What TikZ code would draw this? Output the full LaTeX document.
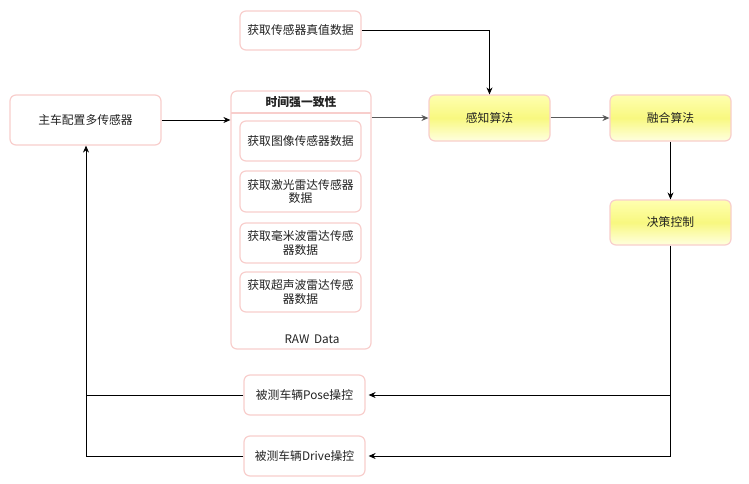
\documentclass[tikz,border=0pt]{standalone}
\usepackage{fontspec}
\setmainfont{Noto Sans CJK SC}
\usetikzlibrary{arrows.meta,positioning}
\definecolor{pinkb}{HTML}{F8CECC}
\definecolor{ytop}{HTML}{FFFFB0}
\definecolor{ymid}{HTML}{F8F880}
\definecolor{ybot}{HTML}{FFFFE0}
\definecolor{txt}{HTML}{222222}
\tikzset{
  box/.style={draw=pinkb, line width=1.2pt, rounded corners=6pt, fill=white, align=center,
    font=\fontsize{11.8}{13.5}\selectfont, text=txt, inner sep=0pt},
  ybox/.style={draw=pinkb, line width=1.2pt, rounded corners=6pt, align=center,
    top color=ytop, bottom color=ybot, middle color=ymid,
    font=\fontsize{11.8}{13.5}\selectfont, text=txt, inner sep=0pt},
  conn/.style={line width=0.8pt, -{Stealth[length=7pt,width=6pt]}},
  gconn/.style={line width=1pt, draw=black!65, -{Stealth[length=7pt,width=6pt]}},
  plain/.style={line width=0.8pt}
}
\begin{document}
\begin{tikzpicture}[x=1pt,y=-1pt]
\useasboundingbox (0,0) rectangle (749,484);
% container
\node[draw=pinkb, line width=1.2pt, rounded corners=6pt, minimum width=140pt, minimum height=258pt, inner sep=0pt] (cont) at (301,220) {};
\draw[pinkb, line width=1.2pt] (231,113) -- (371,113);
\node[font=\fontsize{11.8}{13.5}\selectfont\bfseries, text=txt] (title) at (301,102) {时间强一致性};
\node[font=\fontsize{11.8}{13.5}\selectfont, text=txt] (raw) at (312,339) {RAW\ \,Data};
% inner boxes
\node[box, minimum width=121pt, minimum height=40pt] (s1) at (300.5,141) {获取图像传感器数据};
\node[box, minimum width=121pt, minimum height=41pt] (s2) at (300.5,191.5) {获取激光雷达传感器\\数据};
\node[box, minimum width=121pt, minimum height=40pt] (s3) at (300.5,243) {获取毫米波雷达传感\\器数据};
\node[box, minimum width=121pt, minimum height=40pt] (s4) at (300.5,292) {获取超声波雷达传感\\器数据};
% other nodes
\node[box, minimum width=151pt, minimum height=50pt] (main) at (85.5,120) {主车配置多传感器};
\node[box, minimum width=121pt, minimum height=39pt] (truth) at (300.5,30.5) {获取传感器真值数据};
\node[ybox, minimum width=121pt, minimum height=46pt] (perc) at (489.5,118) {感知算法};
\node[ybox, minimum width=121pt, minimum height=46pt] (fuse) at (670.5,118) {融合算法};
\node[ybox, minimum width=121pt, minimum height=45pt] (dec) at (670.5,222.5) {决策控制};
\node[box, minimum width=121pt, minimum height=40pt] (pose) at (304.5,395) {被测车辆Pose操控};
\node[box, minimum width=121pt, minimum height=40pt] (drive) at (304.5,456) {被测车辆Drive操控};
% connectors
\draw[conn] (main.east) -- (cont.west |- main.east);
\draw[gconn] (cont.east |- perc.west) -- (perc.west);
\draw[gconn] (perc.east) -- (fuse.west);
\draw[conn] (truth.east) -| (perc.north);
\draw[conn] (fuse.south) -- (dec.north);
\coordinate (jp) at (670.5,395);
\coordinate (jd) at (670.5,456);
\draw[plain] (dec.south) -- (jd);
\draw[conn] (jp) -- ([xshift=3pt]pose.east);
\draw[conn] (jd) -- ([xshift=3pt]drive.east);
\coordinate (lp) at (86,395);
\coordinate (ld) at (86,456);
\draw[plain] (pose.west) -- (lp);
\draw[plain] (drive.west) -- (ld) -- (lp);
\draw[conn] (lp) -- (86,145.6);
\end{tikzpicture}
\end{document}
